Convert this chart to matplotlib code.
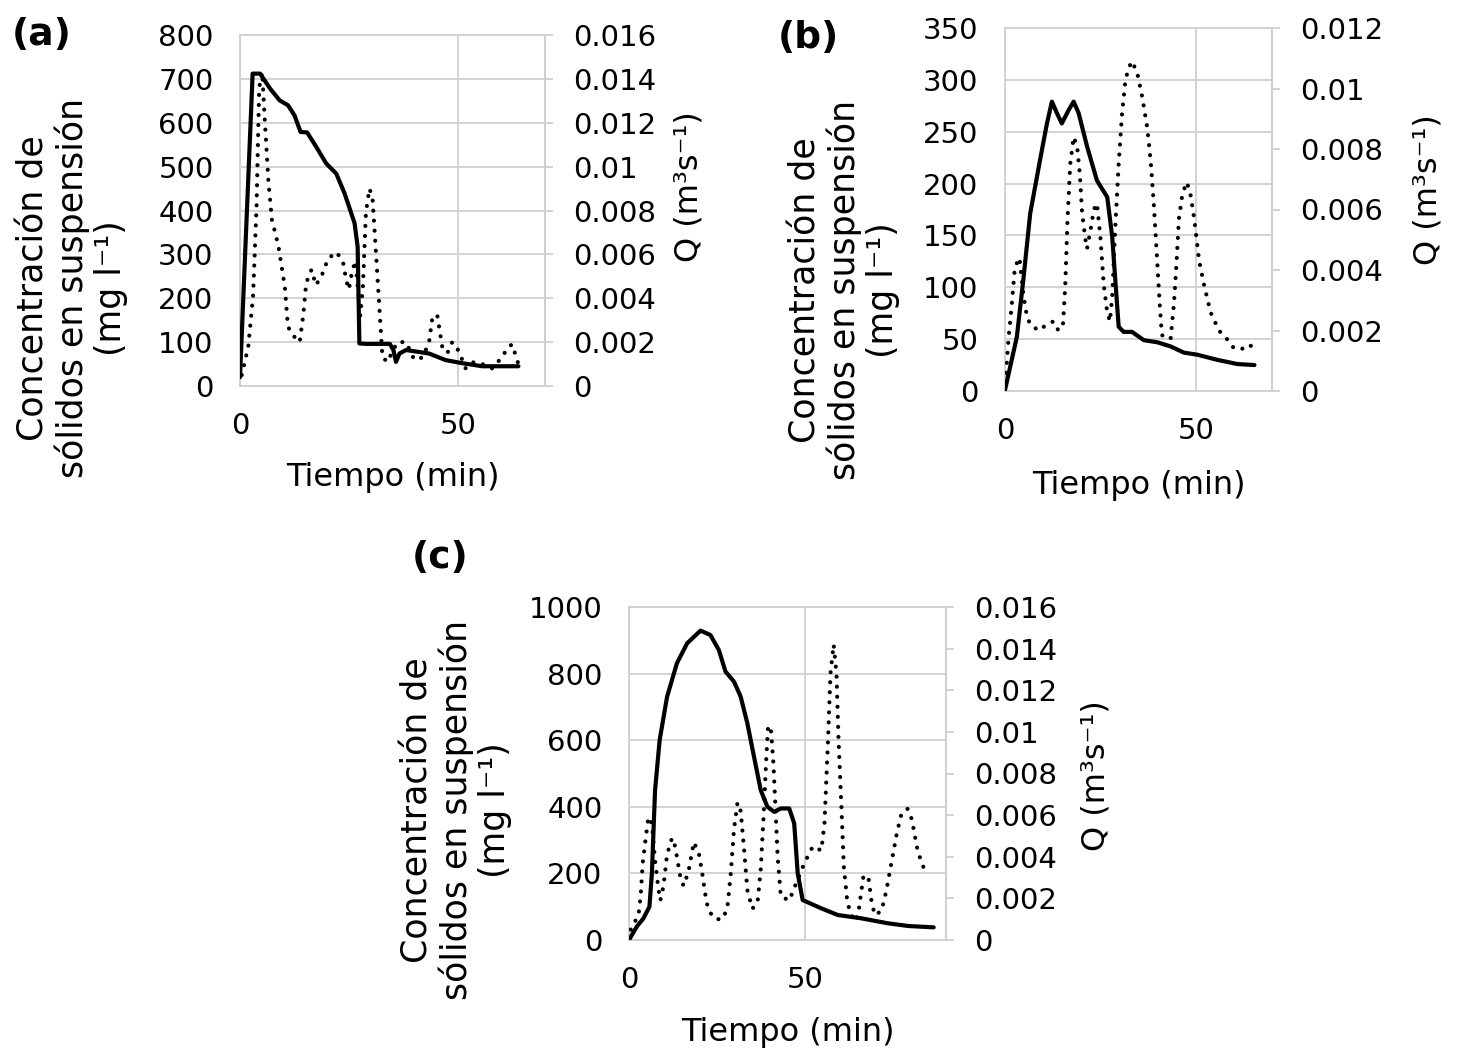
import matplotlib
matplotlib.use("Agg")
import matplotlib.pyplot as plt
from matplotlib.ticker import FuncFormatter

# panel (a): concentracion (solid) and caudal Q (dotted)
t_conc_a = [0, 2.9, 4.6, 6.9, 9.1, 11.0, 12.5, 13.9, 15.4, 17.5, 19.8, 22.1, 24.0, 26.3,
            27.0, 27.4, 28.9, 34.4, 35.2, 35.8, 36.6, 38.1, 43.4, 47.2, 51.0, 55.6, 63.9]
conc_a = [20, 712, 712, 678, 651, 640, 617, 579, 578, 545, 507, 484, 439, 371,
          317, 97, 96, 96, 82, 55, 74, 82, 74, 59, 52, 45, 45]
t_q_a = [0.4, 1.9, 3.0, 3.8, 4.4, 5.1, 5.7, 6.5, 7.3, 8.8, 10.3, 11.0, 12.2, 13.7, 14.5,
         15.2, 16.4, 17.4, 18.7, 20.2, 22.1, 23.6, 24.4, 25.0, 25.7, 26.5, 27.6, 28.2,
         28.9, 29.7, 30.4, 31.2, 32.1, 32.7, 33.9, 35.0, 36.2, 38.1, 40.0, 41.9, 43.4,
         44.2, 45.3, 46.4, 47.6, 48.7, 50.2, 51.8, 53.7, 55.6, 57.8, 60.1, 61.3, 62.4,
         63.1, 63.9]
q_a = [0.0005, 0.0018, 0.0041, 0.0082, 0.0136, 0.0143, 0.0121, 0.0094, 0.0076, 0.0064,
       0.0045, 0.0027, 0.0023, 0.0020, 0.0032, 0.0047, 0.0053, 0.0046, 0.0050, 0.0058,
       0.0061, 0.0057, 0.0048, 0.0044, 0.0052, 0.0057, 0.0032, 0.0045, 0.0079, 0.0090,
       0.0086, 0.0061, 0.0032, 0.0013, 0.0011, 0.0016, 0.0020, 0.0020, 0.0012, 0.0013,
       0.0020, 0.0032, 0.0032, 0.0018, 0.0015, 0.0020, 0.0016, 0.0008, 0.0011, 0.0010,
       0.0008, 0.0013, 0.0017, 0.0019, 0.0015, 0.0010]

# panel (b)
t_conc_b = [0, 3.1, 4.8, 6.6, 9.2, 11.0, 12.3, 13.6, 14.9, 16.7, 18.0, 19.3, 21.5, 24.1,
            26.8, 28.1, 29.8, 31.1, 33.3, 36.4, 39.9, 43.4, 46.9, 50.4, 55.7, 60.9, 65.4]
conc_b = [1, 52, 107, 171, 223, 258, 279, 268, 258, 271, 279, 268, 236, 203,
          187, 149, 62, 57, 57, 49, 47, 43, 37, 35, 30, 26, 25]
t_q_b = [0.3, 0.9, 1.8, 2.6, 3.8, 4.8, 5.7, 6.6, 8.8, 11.0, 12.7, 14.0, 15.2, 15.8, 16.4,
         17.1, 18.0, 18.9, 19.6, 20.2, 21.1, 21.5, 22.4, 23.3, 24.1, 25.0, 25.9, 26.8,
         27.5, 28.1, 28.9, 29.8, 30.7, 31.6, 32.5, 33.3, 34.7, 36.0, 37.3, 38.2, 39.0,
         39.9, 40.6, 41.1, 42.1, 43.4, 44.3, 45.0, 45.6, 46.5, 47.6, 48.5, 49.6, 50.9,
         52.2, 53.9, 56.1, 58.3, 60.1, 61.8, 64.0, 65.4]
q_b = [0.0006, 0.0017, 0.0029, 0.0041, 0.0044, 0.0032, 0.0025, 0.0022, 0.0020, 0.0022,
       0.0023, 0.0020, 0.0022, 0.0035, 0.0057, 0.0075, 0.0084, 0.0081, 0.0072, 0.0059,
       0.0050, 0.0047, 0.0053, 0.0060, 0.0062, 0.0051, 0.0035, 0.0026, 0.0023, 0.0031,
       0.0054, 0.0075, 0.0092, 0.0103, 0.0107, 0.0109, 0.0105, 0.0097, 0.0087, 0.0076,
       0.0062, 0.0043, 0.0028, 0.0019, 0.0015, 0.0017, 0.0029, 0.0043, 0.0057, 0.0065,
       0.0069, 0.0066, 0.0057, 0.0043, 0.0035, 0.0026, 0.0020, 0.0017, 0.0014, 0.0014,
       0.0014, 0.0017]

# panel (c)
t_conc_c = [0, 2.2, 4.1, 5.8, 6.5, 7.4, 8.7, 10.8, 13.6, 16.5, 20.3, 23.1, 25.5, 27.4,
            29.8, 31.7, 33.6, 35.5, 37.4, 39.3, 41.2, 43.1, 45.5, 46.9, 47.9, 49.3,
            54.6, 59.3, 66.0, 73.6, 79.3, 86.5]
conc_c = [0, 40, 65, 100, 200, 450, 600, 730, 831, 891, 929, 916, 871, 806,
          776, 731, 651, 550, 450, 400, 385, 395, 395, 350, 200, 120,
          95, 75, 65, 50, 42, 38]
t_q_c = [0.5, 2.7, 3.3, 3.9, 4.9, 5.5, 6.5, 7.4, 8.4, 8.9, 9.8, 10.8, 12.2, 13.1, 14.6,
         15.5, 16.9, 18.4, 19.8, 20.8, 22.0, 23.1, 24.6, 26.5, 27.9, 28.9, 29.8, 30.8,
         31.7, 32.7, 33.6, 35.0, 36.5, 37.4, 38.2, 38.9, 39.5, 40.3, 41.0, 41.7, 42.2,
         43.1, 45.5, 47.4, 49.8, 52.2, 54.6, 55.5, 56.5, 57.2, 58.1, 58.9, 59.5, 60.3,
         61.0, 62.0, 63.1, 64.4, 65.2, 66.5, 67.9, 68.9, 69.8, 71.7, 73.1, 74.6, 76.0,
         77.4, 79.1, 80.3, 81.7, 82.7, 83.6, 86.0]
q_c = [0.0005, 0.0012, 0.0021, 0.0037, 0.0051, 0.0059, 0.0056, 0.0038, 0.0024, 0.0019,
       0.0026, 0.0041, 0.0049, 0.0045, 0.0030, 0.0026, 0.0033, 0.0047, 0.0042, 0.0032,
       0.0018, 0.0013, 0.0010, 0.0010, 0.0015, 0.0032, 0.0053, 0.0066, 0.0062, 0.0043,
       0.0024, 0.0015, 0.0018, 0.0034, 0.0059, 0.0085, 0.0103, 0.0101, 0.0085, 0.0059,
       0.0040, 0.0021, 0.0019, 0.0027, 0.0037, 0.0045, 0.0043, 0.0056, 0.0096, 0.0128,
       0.0142, 0.0128, 0.0096, 0.0064, 0.0035, 0.0018, 0.0012, 0.0009, 0.0014, 0.0030,
       0.0031, 0.0018, 0.0012, 0.0014, 0.0024, 0.0038, 0.0051, 0.0061, 0.0063, 0.0058,
       0.0045, 0.0039, 0.0035, 0.0035]

W, H = 1457, 1053
GRID = "#d0d0d0"
TICK_FS = 21
YLAB = "Concentración de\nsólidos en suspensión\n(mg l\u207b\u00b9)"
QLAB = "Q (m\u00b3s\u207b\u00b9)"


def px_box(left, top, right, bottom):
    return [left / W, 1 - bottom / H, (right - left) / W, (bottom - top) / H]


def draw_panel(fig, box, tc, conc, tq, q, xmax, cmax, cstep, qmax,
               ylab_xy, qlab_xy, xlab_y):
    ax = fig.add_axes(box)
    ax.plot(tc, conc, color="black", lw=3.0, solid_joinstyle="round",
            solid_capstyle="round", zorder=3)
    ax.set_xlim(0, xmax)
    ax.set_ylim(0, cmax)
    ax.set_xticks([0, 50])
    ax.set_yticks(range(0, cmax + 1, cstep))
    ax.grid(True, color=GRID, lw=1.3)
    ax.set_axisbelow(True)
    for s in ax.spines.values():
        s.set_color(GRID)
        s.set_linewidth(1.3)
    ax.tick_params(axis="both", length=0, pad=19, labelsize=TICK_FS)

    ax2 = ax.twinx()
    ax2.plot(tq, q, color="black", lw=3.0, linestyle=(0, (0.01, 2.4)),
             dash_capstyle="round")
    ax2.set_ylim(0, qmax)
    n = int(round(qmax / 0.002))
    ax2.set_yticks([0.002 * i for i in range(n + 1)])
    ax2.yaxis.set_major_formatter(FuncFormatter(lambda v, p: "%g" % round(v, 4)))
    for k, s in ax2.spines.items():
        s.set_visible(k == "right")
        s.set_color(GRID)
        s.set_linewidth(1.3)
    ax2.tick_params(axis="y", length=6, width=1.3, color=GRID, pad=14,
                    labelsize=TICK_FS)

    ax.text(ylab_xy[0], ylab_xy[1], YLAB, transform=ax.transAxes, rotation=90,
            ha="right", va="center", multialignment="center", fontsize=25,
            linespacing=1.15)
    ax.text(qlab_xy[0], qlab_xy[1], QLAB, transform=ax.transAxes, rotation=90,
            ha="left", va="center", fontsize=23)
    ax.text(0.5, xlab_y, "Tiempo (min)", transform=ax.transAxes,
            ha="center", va="center", fontsize=23)
    return ax


fig = plt.figure(figsize=(W / 100, H / 100), dpi=100)

draw_panel(fig, px_box(240, 35, 545, 386), t_conc_a, conc_a, t_q_a, q_a,
           70, 800, 100, 0.016, (-0.367, 0.279), (1.42, 0.567), -0.262)
draw_panel(fig, px_box(1005, 28, 1272, 391), t_conc_b, conc_b, t_q_b, q_b,
           70, 350, 50, 0.012, (-0.393, 0.278), (1.528, 0.554), -0.259)
draw_panel(fig, px_box(629, 607, 946, 940), t_conc_c, conc_c, t_q_c, q_c,
           90, 1000, 200, 0.016, (-0.369, 0.39), (1.423, 0.495), -0.279)

for lab, x, y in [("(a)", 42, 35), ("(b)", 808, 38), ("(c)", 440, 558)]:
    fig.text(x / W, 1 - y / H, lab, ha="center", va="center",
             fontsize=27, fontweight="bold")

fig.savefig("out.png", dpi=100, facecolor="white")
